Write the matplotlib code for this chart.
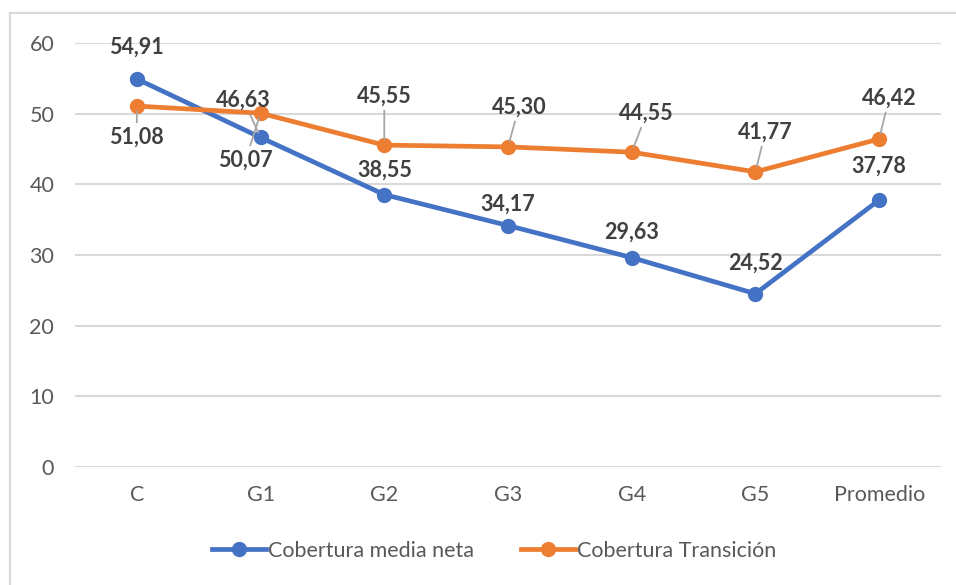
import matplotlib.pyplot as plt
from matplotlib.lines import Line2D

categorias = ["C", "G1", "G2", "G3", "G4", "G5", "Promedio"]
media_neta = [54.91, 46.63, 38.55, 34.17, 29.63, 24.52, 37.78]
transicion = [51.08, 50.07, 45.55, 45.30, 44.55, 41.77, 46.42]

# label offsets in pixels (dx, dy) and whether a leader line is drawn
off_neta = [(0, 32), (-17, 37), (0, 24), (0, 21), (0, 25), (0, 31), (0, 34)]
lead_neta = [False, True, False, False, False, False, False]
off_trans = [(0, -31), (-15, -47), (0, 49), (11, 40), (15, 39), (10, 40), (10, 41)]
lead_trans = [True, True, True, True, True, True, True]

azul = "#4472C4"
naranja = "#ED7D31"
gris = "#595959"
grid_c = "#D9D9D9"

plt.rcParams['font.family'] = ['Lato', 'DejaVu Sans']

fig = plt.figure(figsize=(9.56, 5.85), dpi=100)
ax = fig.add_axes([75/956, 1-467/585, (941-75)/956, (467-43)/585])

x = list(range(len(categorias)))
ax.plot(x, media_neta, color=azul, lw=3.4, marker='o', ms=10, label="Cobertura media neta", zorder=3)
ax.plot(x, transicion, color=naranja, lw=3.4, marker='o', ms=10, label="Cobertura Transición", zorder=3)

def etiquetas(vals, offs, leads):
    for i, v in enumerate(vals):
        txt = f"{v:.2f}".replace(".", ",")
        kw = {}
        if leads[i]:
            kw['arrowprops'] = dict(arrowstyle='-', color='#A6A6A6', lw=1.3, shrinkA=1, shrinkB=4)
        ax.annotate(txt, (i, v), xytext=offs[i], textcoords='offset pixels',
                    ha='center', va='center', fontsize=15.5, fontweight='bold',
                    color='#404040', zorder=4, **kw)

etiquetas(media_neta, off_neta, lead_neta)
etiquetas(transicion, off_trans, lead_trans)

ax.set_xlim(-0.5, 6.5)
ax.set_ylim(0, 60)
ax.set_yticks(range(0, 61, 10))
ax.set_xticks(x)
ax.set_xticklabels(categorias)
ax.tick_params(axis='both', length=0, labelsize=15.5, labelcolor=gris)
ax.tick_params(axis='x', pad=13)
ax.tick_params(axis='y', pad=15)
ax.grid(axis='y', color=grid_c, lw=1.5)
ax.set_axisbelow(True)
for s in ax.spines.values():
    s.set_visible(False)

# chart border (top and left visible)
fig.add_artist(Line2D([10/956, 1], [1-13/585, 1-13/585], color=grid_c, lw=1.5))
fig.add_artist(Line2D([10/956, 10/956], [0, 1-13/585], color=grid_c, lw=1.5))

leg = fig.legend(loc='center', bbox_to_anchor=(494/956, 1-551/585), ncol=2, frameon=False,
                 fontsize=15.5, handlelength=2.5, handletextpad=0.1, columnspacing=2.2)
for t in leg.get_texts():
    t.set_color(gris)

fig.savefig("out.png", dpi=100)
